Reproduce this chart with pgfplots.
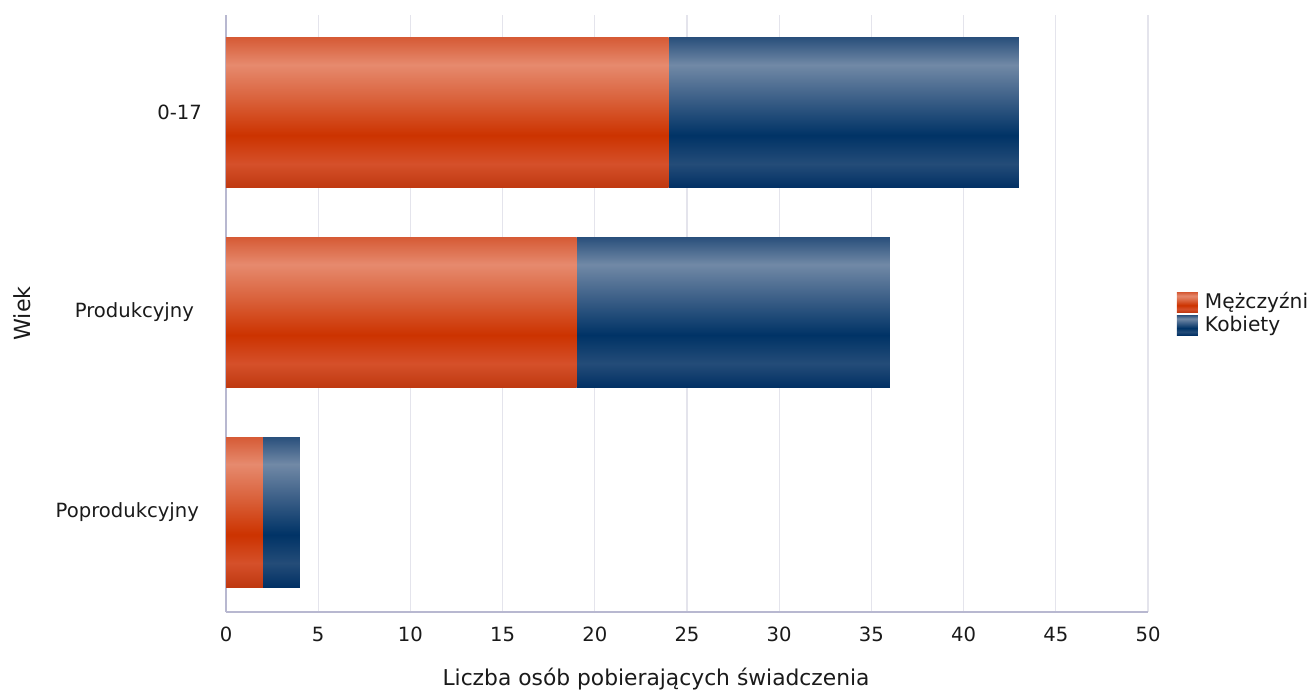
\documentclass[border=0pt]{standalone}
\usepackage{fontspec}
\setmainfont{DejaVu Sans}
\usepackage{pgfplots}
\pgfplotsset{compat=1.18}

\definecolor{r1}{HTML}{D65B36}
\definecolor{r2}{HTML}{E68A6E}
\definecolor{r3}{HTML}{DA633D}
\definecolor{r4}{HTML}{CC3300}
\definecolor{r5}{HTML}{D5502A}
\definecolor{r6}{HTML}{BF3810}
\definecolor{b1}{HTML}{2A507C}
\definecolor{b2}{HTML}{7189A6}
\definecolor{b3}{HTML}{3D6088}
\definecolor{b4}{HTML}{003366}
\definecolor{b5}{HTML}{244C78}
\definecolor{b6}{HTML}{013064}
\definecolor{axisline}{HTML}{B8B8D0}
\definecolor{gridline}{HTML}{E4E4EC}
\definecolor{txt}{HTML}{1A1A1A}

% bar gradients, 25bp = bottom of bar, 75bp = top of bar
\pgfdeclareverticalshading{redbar}{100bp}{%
  color(0bp)=(r6);
  color(25bp)=(r6);
  color(33bp)=(r5);
  color(42.5bp)=(r4);
  color(55bp)=(r3);
  color(66bp)=(r2);
  color(75bp)=(r1);
  color(100bp)=(r1)}
\pgfdeclareverticalshading{bluebar}{100bp}{%
  color(0bp)=(b6);
  color(25bp)=(b6);
  color(33bp)=(b5);
  color(42.5bp)=(b4);
  color(55bp)=(b3);
  color(66bp)=(b2);
  color(75bp)=(b1);
  color(100bp)=(b1)}

\pgfplotsset{
  men/.style={draw=none, shade, shading=redbar},
  women/.style={draw=none, shade, shading=bluebar},
  % same frame for every layer
  frame/.style={
    at={(0,0)}, anchor=south west,
    scale only axis,
    width=461pt, height=298.5pt,
    xbar stacked,
    bar width=75pt,
    xmin=0, xmax=50,
    ymin=-0.5, ymax=2.49,
  },
}

\begin{document}
\begin{tikzpicture}
% picture size: 1311 x 690 px at 0.5pt per px
\useasboundingbox (-113pt,-39pt) rectangle (542.5pt,306pt);
\begin{axis}[
    frame,
    xtick={0,5,...,50},
    ytick={0,1,2},
    yticklabels={Poprodukcyjny\hspace*{1.5pt},Produkcyjny\hspace*{4pt},0-17},
    axis lines*=left,
    axis line style={axisline, line width=0.8pt},
    xmajorgrids,
    major grid style={gridline, line width=0.6pt},
    major tick length=0pt,
    tick label style={font=\fontsize{9.8}{12}\selectfont, text=txt},
    /pgf/number format/assume math mode=true,
    xticklabel style={yshift=-4pt},
    yticklabel style={xshift=-8.5pt},
    xlabel={Liczba osób pobierających świadczenia},
    ylabel={Wiek},
    every axis x label/.style={at={(215pt,-33.5pt)}, anchor=center,
        font=\fontsize{10.9}{13}\selectfont, text=txt},
    every axis y label/.style={at={(-102pt,149.25pt)}, rotate=90, anchor=center,
        font=\fontsize{11.1}{13}\selectfont, text=txt},
    legend style={
        at={(1.031,0.5)}, anchor=west,
        draw=none, fill=none,
        font=\fontsize{10.1}{11}\selectfont,
        text=txt,
        row sep=0pt,
        inner sep=0pt,
        nodes={inner sep=1pt},
        /tikz/every odd column/.append style={column sep=2.5pt},
    },
    legend cell align=left,
    legend image code/.code={%
        \path[#1, draw=none] (0pt,-5pt) rectangle (10.5pt,5pt);},
]
% 0-17
\addplot[men] coordinates {(24,2)};
\addlegendentry{Mężczyźni}
\addplot[women] coordinates {(19,2)};
\addlegendentry{Kobiety}
\end{axis}
% one layer per bar, so that every bar gets its own gradient
\begin{axis}[frame, hide axis]
% Produkcyjny
\addplot[men] coordinates {(19,1)};
\addplot[women] coordinates {(17,1)};
\end{axis}
\begin{axis}[frame, hide axis]
% Poprodukcyjny
\addplot[men] coordinates {(2,0)};
\addplot[women] coordinates {(2,0)};
\end{axis}
\end{tikzpicture}
\end{document}
